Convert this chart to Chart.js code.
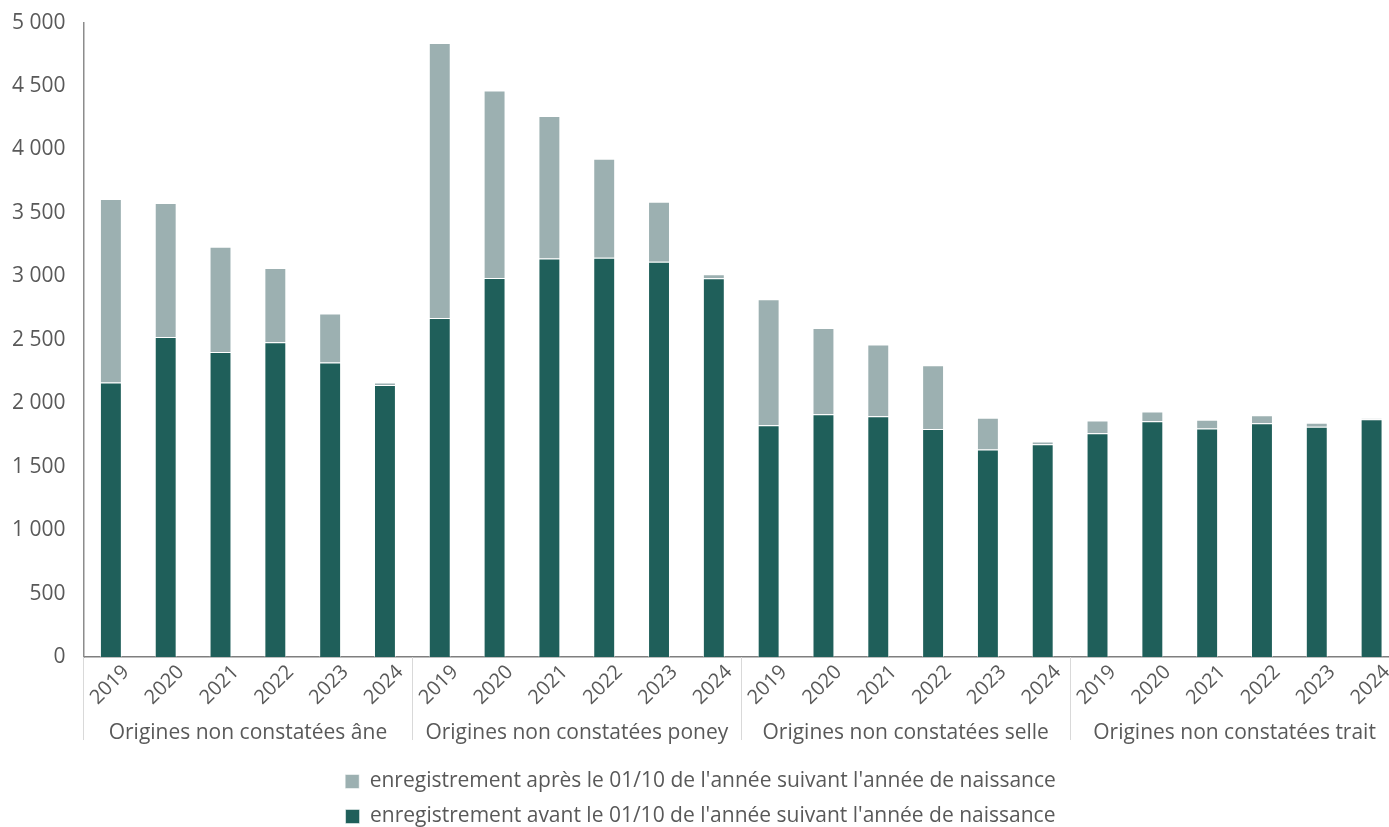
<!DOCTYPE html>
<html>
<head>
<meta charset="utf-8">
<script src="https://cdn.jsdelivr.net/npm/chart.js@4/dist/chart.umd.min.js"></script>
<style>
  html, body { margin: 0; background: #fff; overflow: hidden; }
  #wrap { width: 1399px; height: 837px; }
</style>
</head>
<body>
<div id="wrap"><canvas id="myChart"></canvas></div>
<script>
/* Données */
const groups = ["Origines non constatées âne", "Origines non constatées poney", "Origines non constatées selle", "Origines non constatées trait"];
const years = ["2019", "2020", "2021", "2022", "2023", "2024"];

// enregistrement avant le 01/10 (bas de la pile)
const avant = [
  2164, 2522, 2404, 2480, 2322, 2143,
  2672, 2988, 3141, 3146, 3115, 2986,
  1827, 1914, 1898, 1796, 1635, 1677,
  1764, 1859, 1801, 1843, 1814, 1874
];
// enregistrement après le 01/10 (haut de la pile)
const apres = [
  1446, 1056, 829, 585, 385, 21,
  2168, 1477, 1122, 780, 474, 31,
  993, 679, 564, 503, 250, 21,
  100, 76, 68, 63, 32, 6
];
const yTicks = [0, 500, 1000, 1500, 2000, 2500, 3000, 3500, 4000, 4500, 5000];

const labels = [];
groups.forEach(function() { years.forEach(function(y) { labels.push(y); }); });

const textColor = '#595959';
const fontFamily = '"Open Sans", "Noto Sans", sans-serif';

function fmt(v) {
  return String(v).replace(/\B(?=(\d{3})+(?!\d))/g, ' ');
}

/* Années inclinées, libellés de groupe + séparateurs sous l'axe */
const groupPlugin = {
  id: 'groupLabels',
  afterDraw(chart) {
    const x = chart.scales.x;
    const ctx = chart.ctx;
    const step = x.getPixelForValue(1) - x.getPixelForValue(0);
    ctx.save();
    ctx.fillStyle = textColor;
    ctx.textAlign = 'center';
    ctx.textBaseline = 'middle';
    // années, centrées sous chaque barre
    ctx.font = '20px ' + fontFamily;
    labels.forEach(function(l, i) {
      ctx.save();
      ctx.translate(x.getPixelForValue(i) - 1, x.top + 28);
      ctx.rotate(-Math.PI / 4);
      ctx.fillText(l, 0, 0);
      ctx.restore();
    });
    ctx.strokeStyle = '#d9d9d9';
    ctx.lineWidth = 1;
    ctx.font = '21px ' + fontFamily;
    groups.forEach(function(g, i) {
      const first = i * years.length;
      const left = x.getPixelForValue(first) - step / 2;
      const right = x.getPixelForValue(first + years.length - 1) + step / 2;
      ctx.beginPath();
      ctx.moveTo(Math.round(left) + 0.5, x.top);
      ctx.lineTo(Math.round(left) + 0.5, x.top + 83);
      ctx.stroke();
      ctx.fillText(g, (left + right) / 2, x.top + 76);
    });
    ctx.restore();
  }
};

const ctx = document.getElementById('myChart').getContext('2d');
const chart = new Chart(ctx, {
  type: 'bar',
  data: {
    labels: labels,
    datasets: [{
      label: "enregistrement avant le 01/10 de l'année suivant l'année de naissance",
      data: avant,
      backgroundColor: '#1f5f5a',
      borderColor: 'rgba(255,255,255,0.5)',
      borderWidth: 1,
      barPercentage: 0.5,
      categoryPercentage: 0.8
    }, {
      label: "enregistrement après le 01/10 de l'année suivant l'année de naissance",
      data: apres,
      backgroundColor: '#9cb0b1',
      borderColor: 'rgba(255,255,255,0.5)',
      borderWidth: 1,
      barPercentage: 0.5,
      categoryPercentage: 0.8
    }]
  },
  options: {
    responsive: true,
    maintainAspectRatio: false,
    animation: false,
    layout: { padding: { top: 5, right: 0, left: 2, bottom: 0 } },
    scales: {
      x: {
        stacked: true,
        grid: { display: false },
        border: { display: true, color: '#7f7f7f', width: 1.5 },
        ticks: { display: false },
        afterFit(scale) { scale.height = 100; }
      },
      y: {
        stacked: true,
        min: 0,
        max: 5000,
        grid: { display: false },
        border: { display: true, color: '#8c8c8c', width: 1.5 },
        afterBuildTicks(scale) { scale.ticks = yTicks.map(function(v) { return { value: v }; }); },
        ticks: {
          color: textColor,
          font: { family: fontFamily, size: 21 },
          padding: 10,
          callback: function(v) { return fmt(v); }
        }
      }
    },
    plugins: {
      legend: {
        position: 'bottom',
        reverse: true,
        labels: {
          color: textColor,
          font: { family: fontFamily, size: 21 },
          boxWidth: 14,
          boxHeight: 14,
          padding: 14,
          useBorderRadius: false
        }
      },
      tooltip: { enabled: false }
    }
  },
  plugins: [groupPlugin]
});
</script>
</body>
</html>
